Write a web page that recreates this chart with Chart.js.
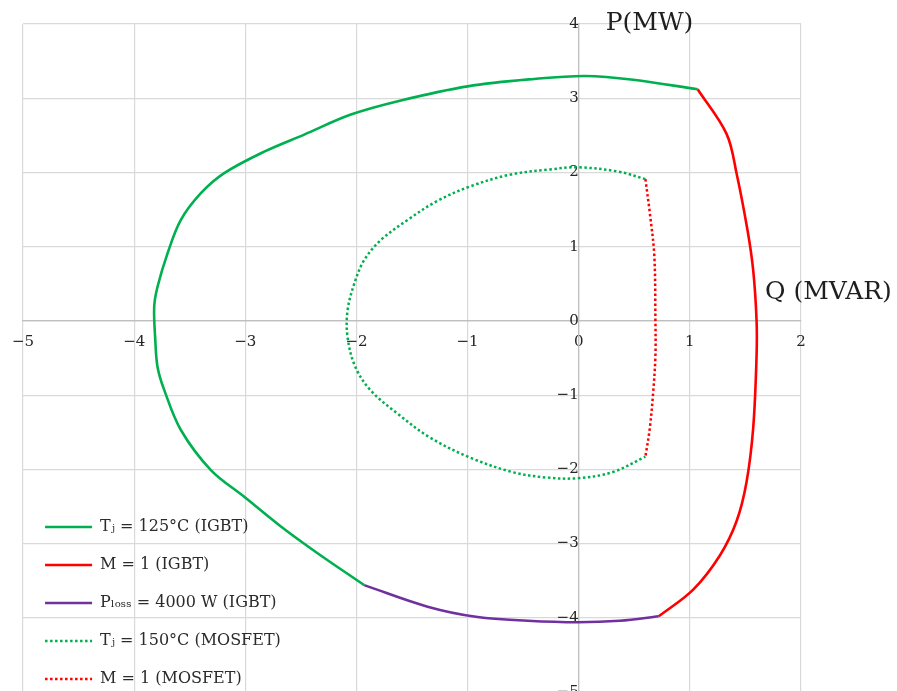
<!DOCTYPE html>
<html>
<head>
<meta charset="utf-8">
<script src="https://cdn.jsdelivr.net/npm/chart.js@4.4.1/dist/chart.umd.min.js"></script>
<style>
  html, body { margin: 0; padding: 0; background: #ffffff; overflow: hidden; }
  #wrap { position: relative; width: 897px; height: 716px; }
</style>
</head>
<body>
<div id="wrap"><canvas id="c"></canvas></div>
<script>
// ---- data (Q in MVAR, P in MW) ----
const seriesNames = [
  'T\u2C7C = 125°C (IGBT)',
  'M = 1 (IGBT)',
  'P\u2097\u2092\u209B\u209B = 4000 W (IGBT)',
  'T\u2C7C = 150°C (MOSFET)',
  'M = 1 (MOSFET)'
];
const igbtTjQ = [1.07, 0.49, 0.06, -0.40, -1.00, -1.60, -2.05, -2.47, -2.83, -3.19, -3.40, -3.58, -3.70, -3.79, -3.82, -3.81, -3.79, -3.73, -3.58, -3.31, -3.01, -2.68, -2.35, -1.93];
const igbtTjP = [3.12, 3.25, 3.30, 3.26, 3.16, 2.97, 2.78, 2.51, 2.28, 1.99, 1.72, 1.36, 0.91, 0.46, 0.19, -0.26, -0.62, -0.93, -1.47, -2.01, -2.37, -2.77, -3.13, -3.56];
const igbtMQ = [1.07, 1.33, 1.42, 1.52, 1.57, 1.60, 1.60, 1.57, 1.51, 1.42, 1.27, 1.03, 0.72];
const igbtMP = [3.12, 2.52, 1.99, 1.21, 0.68, 0.01, -0.48, -1.44, -2.17, -2.70, -3.16, -3.62, -3.98];
const igbtLossQ = [-1.93, -1.36, -0.91, -0.46, -0.01, 0.37, 0.72];
const igbtLossP = [-3.56, -3.85, -3.99, -4.04, -4.06, -4.04, -3.98];
const mosTjQ = [0.60, 0.36, -0.01, -0.26, -0.62, -0.98, -1.28, -1.54, -1.78, -1.93, -2.02, -2.08, -2.08, -2.01, -1.87, -1.63, -1.34, -0.98, -0.59, -0.29, -0.01, 0.30, 0.60];
const mosTjP = [1.91, 2.01, 2.07, 2.04, 1.97, 1.81, 1.61, 1.36, 1.09, 0.82, 0.50, 0.14, -0.22, -0.62, -0.94, -1.25, -1.57, -1.84, -2.04, -2.11, -2.12, -2.04, -1.83];
const mosMQ = [0.60, 0.64, 0.68, 0.69, 0.69, 0.67, 0.64, 0.60];
const mosMP = [1.91, 1.45, 0.88, 0.01, -0.48, -0.96, -1.44, -1.83];
const xTickValues = [-5, -4, -3, -2, -1, 0, 1, 2];
const yTickValues = [-5, -4, -3, -2, -1, 0, 1, 2, 3, 4];
const xAxisTitle = 'Q (MVAR)';
const yAxisTitle = 'P(MW)';

const GREEN = '#00B050', RED = '#FF0000', PURPLE = '#7030A0';
const FONT = "'DejaVu Serif', 'Liberation Serif', serif";

function pts(qs, ps) { return qs.map((q, i) => ({ x: q, y: ps[i] })); }
function fmt(v) { return v < 0 ? '\u2212' + Math.abs(v) : String(v); }

const mk = (label, q, p, color, dotted) => ({
  label, data: pts(q, p), borderColor: color, backgroundColor: color,
  borderWidth: dotted ? 2.5 : 2.6, borderDash: dotted ? [2.5, 2.5] : [],
  showLine: true, pointRadius: 0, pointHoverRadius: 0, tension: 0.35, fill: false
});

const axisTitles = {
  id: 'axisTitles',
  afterLayout(chart) {
    // keep the in-plot legend anchored to the plot's lower-left corner
    const lg = chart.legend;
    if (lg) {
      lg.top = chart.chartArea.top;
      lg.bottom = chart.chartArea.bottom + 17;
    }
  },
  afterDraw(chart) {
    const { ctx, chartArea, scales } = chart;
    ctx.save();
    ctx.fillStyle = '#1f1f1f';
    ctx.font = "25px " + FONT;
    ctx.textBaseline = 'alphabetic';
    ctx.textAlign = 'left';
    ctx.fillText(yAxisTitle, scales.x.getPixelForValue(0) + 27, chartArea.top + 6);
    ctx.fillText(xAxisTitle, chartArea.right - 36, scales.y.getPixelForValue(0) - 22);
    ctx.restore();
  }
};

new Chart(document.getElementById('c'), {
  type: 'scatter',
  data: {
    datasets: [
      mk(seriesNames[0], igbtTjQ, igbtTjP, GREEN, false),
      mk(seriesNames[1], igbtMQ, igbtMP, RED, false),
      mk(seriesNames[2], igbtLossQ, igbtLossP, PURPLE, false),
      mk(seriesNames[3], mosTjQ, mosTjP, GREEN, true),
      mk(seriesNames[4], mosMQ, mosMP, RED, true)
    ]
  },
  options: {
    responsive: true, maintainAspectRatio: false, animation: false,
    layout: { padding: { left: 21, right: 96, top: 24, bottom: 13 } },
    scales: {
      x: {
        type: 'linear', min: -5, max: 2, position: { y: 0 },
        afterBuildTicks: s => { s.ticks = xTickValues.map(v => ({ value: v })); },
        ticks: { callback: v => fmt(v), font: { family: FONT, size: 15 }, color: '#262626', padding: 12, maxRotation: 0 },
        grid: { drawTicks: false, color: c => (c.tick && c.tick.value === 0 ? '#bfbfbf' : '#d9d9d9'), lineWidth: 1.2 },
        border: { color: '#bfbfbf', width: 1.2 }
      },
      y: {
        type: 'linear', min: -5, max: 4, position: { x: 0 },
        afterBuildTicks: s => { s.ticks = yTickValues.map(v => ({ value: v })); },
        ticks: { callback: v => fmt(v), font: { family: FONT, size: 15 }, color: '#262626', padding: 15 },
        grid: { drawTicks: false, color: c => (c.tick && c.tick.value === 0 ? '#bfbfbf' : '#d9d9d9'), lineWidth: 1.2 },
        border: { color: '#bfbfbf', width: 1.2 }
      }
    },
    plugins: {
      tooltip: { enabled: false },
      legend: {
        position: 'chartArea', align: 'end',
        labels: {
          usePointStyle: true, pointStyle: 'line', pointStyleWidth: 47, boxHeight: 16,
          padding: 22, color: '#2b2b2b', font: { family: FONT, size: 16 },
          generateLabels(chart) {
            const items = Chart.defaults.plugins.legend.labels.generateLabels(chart);
            items.forEach(it => {
              const ds = chart.data.datasets[it.datasetIndex];
              it.lineDash = ds.borderDash;
              it.strokeStyle = ds.borderColor;
              it.lineWidth = ds.borderWidth;
              it.pointStyle = 'line';
            });
            return items;
          }
        }
      }
    }
  },
  plugins: [axisTitles]
});
</script>
</body>
</html>
